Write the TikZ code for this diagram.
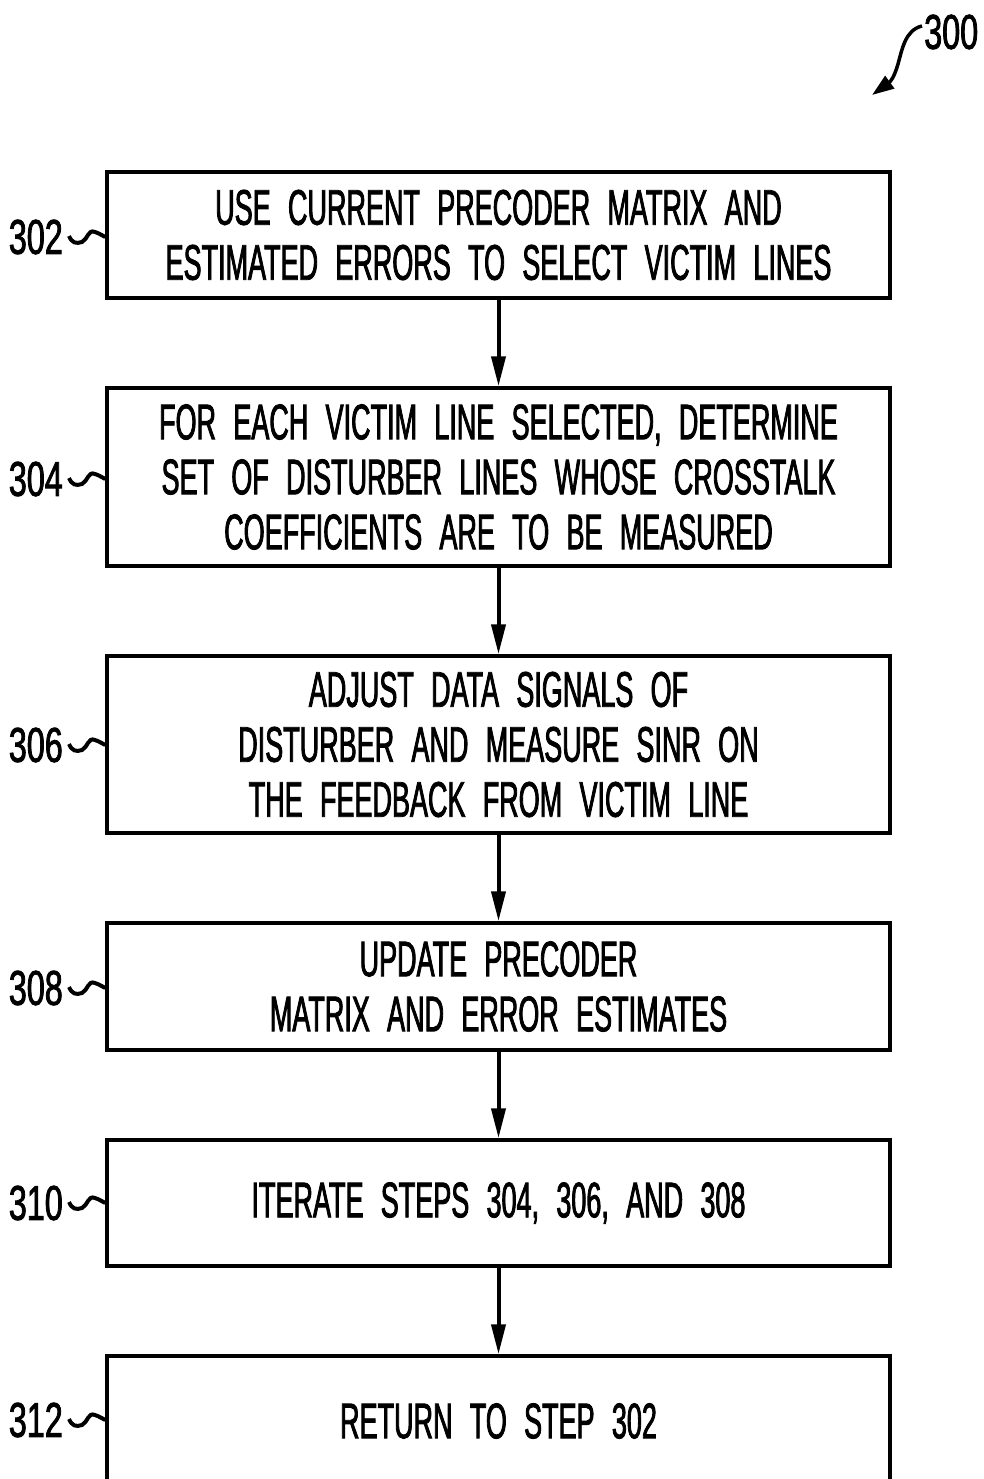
\documentclass[tikz,border=0pt]{standalone}
\usepackage{fontspec}
\setmainfont{Liberation Sans}[FakeStretch=0.54,WordSpace=2.3,FakeBold=1.6]
\newfontfamily\labfont{Liberation Sans}[FakeStretch=0.66,FakeBold=1.6]
\usetikzlibrary{arrows.meta}
\begin{document}
\begin{tikzpicture}[x=1pt,y=-1pt,
  stepbox/.style={draw,line width=3.5pt,minimum width=783pt,inner sep=0pt,align=center,
    font=\fontsize{50}{55}\selectfont},
  reflabel/.style={font=\labfont\fontsize{49}{55}\selectfont,inner sep=0pt},
  flow/.style={line width=4pt,-{Triangle[length=30pt,width=14pt]}},
  squig/.style={line width=4pt}]
\useasboundingbox (0,0) rectangle (983,1479);
\clip (0,0) rectangle (983,1479);
\node[stepbox,minimum height=126pt] (b302) at (498.5,235) {USE CURRENT PRECODER MATRIX AND\\ESTIMATED ERRORS TO SELECT VICTIM LINES};
\node[stepbox,minimum height=178pt] (b304) at (498.5,477) {FOR EACH VICTIM LINE SELECTED, DETERMINE\\SET OF DISTURBER LINES WHOSE CROSSTALK\\COEFFICIENTS ARE TO BE MEASURED};
\node[stepbox,minimum height=177pt] (b306) at (498.5,744.5) {ADJUST DATA SIGNALS OF\\DISTURBER AND MEASURE SINR ON\\THE FEEDBACK FROM VICTIM LINE};
\node[stepbox,minimum height=127pt] (b308) at (498.5,986.5) {UPDATE PRECODER\\MATRIX AND ERROR ESTIMATES};
\node[stepbox,minimum height=126pt] (b310) at (498.5,1203) {ITERATE STEPS 304, 306, AND 308};
\node[stepbox,minimum height=130pt] (b312) at (498.5,1421) {RETURN TO STEP 302};
\foreach \a/\b in {b302/b304,b304/b306,b306/b308,b308/b310,b310/b312}
  \draw[flow] (\a.south) -- (\b.north);
\foreach \n/\y in {302/237,304/479,306/745,308/988,310/1203,312/1420}{
  \node[reflabel,anchor=east] (l\n) at (63,\y) {\n};
  \coordinate (s\n) at (b\n.west |- 0,\y);
  \draw[squig] (l\n.east) ++(6,-1) .. controls +(3,7) and +(-6,2) .. ++(13,6) .. controls +(6,-3) and +(-7,-3) .. ++(13,-10) .. controls +(3,1) .. (s\n);
}
\node[reflabel,anchor=west] (l300) at (924,32) {300};
\coordinate (a300) at (872,95);
\draw[line width=3.5pt,-{Triangle[length=22pt,width=15pt]}] (l300.west) ++(-2,-6) .. controls (905,30) and (902,50) .. (898,64) .. controls (894,78) and (890,82) .. (a300);
\end{tikzpicture}
\end{document}
